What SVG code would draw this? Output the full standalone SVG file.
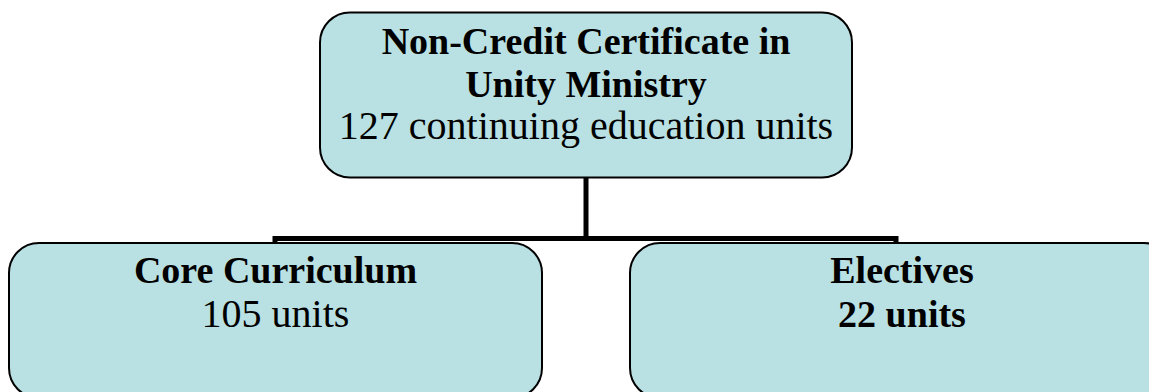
<svg xmlns="http://www.w3.org/2000/svg" width="1149" height="392" viewBox="0 0 1149 392">
<style>
.box{fill:#B9E0E3;stroke:#000;stroke-width:2}
.t{font-family:"Liberation Serif",serif;font-size:40px;fill:#000;text-anchor:middle}
.b{font-weight:bold;font-size:38px}
.c{fill:none;stroke:#000;stroke-width:5}
</style>
<rect width="1149" height="392" fill="#fff"/>
<g id="connectors">
<path class="c" d="M586 177V238.5M275 238.5H896M275 236V244M896 236V244"/>
</g>
<g id="root">
<rect class="box" x="320" y="12.5" width="532" height="165" rx="30"/>
<text class="t b" x="586" y="54">Non-Credit Certificate in</text>
<text class="t b" x="586" y="97">Unity Ministry</text>
<text class="t" x="586" y="139">127 continuing education units</text>
</g>
<g id="core">
<rect class="box" x="9" y="243" width="533" height="155" rx="30"/>
<text class="t b" x="275.5" y="283">Core Curriculum</text>
<text class="t" x="275.5" y="327">105 units</text>
</g>
<g id="electives">
<rect class="box" x="630" y="243" width="544" height="155" rx="30"/>
<text class="t b" x="902" y="283">Electives</text>
<text class="t b" x="902" y="327">22 units</text>
</g>
</svg>
